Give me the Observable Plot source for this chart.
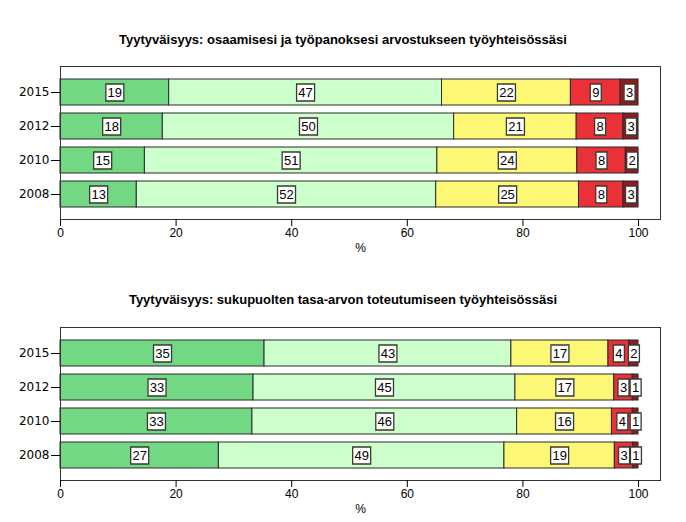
<!DOCTYPE html>
<html><head><meta charset="utf-8">
<script src="https://cdn.jsdelivr.net/npm/d3@7"></script>
<script src="https://cdn.jsdelivr.net/npm/@observablehq/plot@0.6"></script>
<style>
body{margin:0;background:#fff;}
#page{position:relative;width:686px;height:522px;overflow:hidden;background:#fff;}
.title{position:absolute;left:0;width:686px;text-align:center;font:bold 13px "Liberation Sans Narrow",sans-serif;line-height:16px;color:#000;}
.chart{position:absolute;left:0;}
</style></head><body><div id="page"></div>
<script>
// Years (y categories, top to bottom)
const years = ["2015", "2012", "2010", "2008"];
// Response categories (stack order, left to right)
const categories = ["Erittäin tyytyväinen", "Melko tyytyväinen", "Ei tyytyväinen eikä tyytymätön", "Melko tyytymätön", "Erittäin tyytymätön"];
const categoryColors = ["#72d884", "#ccffcc", "#fcf875", "#ea3138", "#8d1b1f"];
const xTicks = [0, 20, 40, 60, 80, 100];

// Chart 1: osaamisesi ja työpanoksesi arvostukseen (%)
const title1 = "Tyytyväisyys: osaamisesi ja työpanoksesi arvostukseen työyhteisössäsi";
const arvostus2015 = [18.8, 47.2, 22.3, 8.6, 3.1];
const arvostus2012 = [17.7, 50.4, 21.2, 8.1, 2.6];
const arvostus2010 = [14.6, 50.6, 24.2, 8.4, 2.2];
const arvostus2008 = [13.2, 51.8, 24.7, 7.7, 2.6];

// Chart 2: sukupuolten tasa-arvon toteutumiseen (%)
const title2 = "Tyytyväisyys: sukupuolten tasa-arvon toteutumiseen työyhteisössäsi";
const tasaarvo2015 = [35.3, 42.7, 16.8, 3.6, 1.6];
const tasaarvo2012 = [33.4, 45.3, 17.1, 3.2, 1.0];
const tasaarvo2010 = [33.2, 45.8, 16.4, 3.6, 1.0];
const tasaarvo2008 = [27.4, 49.4, 19.1, 3.2, 0.9];

function toRows(seriesByYear) {
  const rows = [];
  years.forEach((year, i) => {
    seriesByYear[i].forEach((v, j) => rows.push({year, cat: categories[j], value: v, label: String(Math.round(v))}));
  });
  return rows;
}

// label box symbol: width depends on number of digits (passed via r)
const labelBox = {
  draw(ctx, size) {
    const n = Math.round(Math.sqrt(size / Math.PI));
    const w = n <= 1 ? 11 : 18, h = 17;
    ctx.moveTo(-w / 2, -h / 2);
    ctx.lineTo(w / 2, -h / 2);
    ctx.lineTo(w / 2, h / 2);
    ctx.lineTo(-w / 2, h / 2);
    ctx.closePath();
  }
};

function makeChart(rows) {
  return Plot.plot({
    width: 686,
    height: 200,
    marginLeft: 60,
    marginRight: 26,
    marginTop: 10,
    marginBottom: 37,
    style: {fontFamily: "'Liberation Sans Narrow', sans-serif", fontSize: "12px", background: "white", overflow: "visible"},
    x: {domain: [0, 103.8]},
    y: {domain: years, paddingInner: 0.25, paddingOuter: 0.34},
    color: {domain: categories, range: categoryColors},
    r: {type: "identity"},
    marks: [
      Plot.barX(rows, {x: "value", y: "year", fill: "cat", stroke: "#2b2b2b", strokeWidth: 1}),
      Plot.dot(rows, Plot.stackX({x: "value", y: "year", r: d => d.label.length, symbol: labelBox, fill: "white", stroke: "#3a3a30", strokeWidth: 1.3})),
      Plot.text(rows, Plot.stackX({x: "value", y: "year", text: "label", fill: "black", fontFamily: "'Liberation Sans', sans-serif", fontSize: 13, dy: 0.5})),
      Plot.frame({stroke: "#333", strokeWidth: 1}),
      Plot.axisX({ticks: xTicks, tickSize: 7, tickPadding: 2, label: "%", labelAnchor: "center", labelArrow: "none", labelOffset: 32, fontSize: 12}),
      Plot.axisY({tickSize: 9, tickPadding: 2, label: null, fontFamily: "'DejaVu Sans', sans-serif", fontSize: 12})
    ]
  });
}

const page = document.getElementById("page");
function place(title, rows, titleTop, chartTop) {
  const t = document.createElement("div");
  t.className = "title";
  t.style.top = titleTop + "px";
  t.textContent = title;
  page.appendChild(t);
  const c = document.createElement("div");
  c.className = "chart";
  c.style.top = chartTop + "px";
  c.appendChild(makeChart(rows));
  page.appendChild(c);
}

place(title1, toRows([arvostus2015, arvostus2012, arvostus2010, arvostus2008]), 32, 56);
place(title2, toRows([tasaarvo2015, tasaarvo2012, tasaarvo2010, tasaarvo2008]), 292, 317);
</script>
</body></html>
